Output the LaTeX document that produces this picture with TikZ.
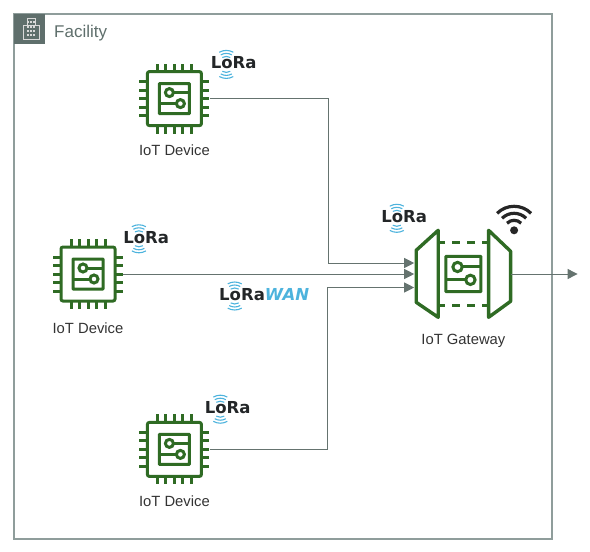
\documentclass[tikz,border=0pt]{standalone}
\usepackage{fontspec}
\usepackage{xcolor}
\usetikzlibrary{arrows.meta,positioning,calc}
\setmainfont{Liberation Sans}
\newfontfamily\logofont{DejaVu Sans}
\definecolor{chipgreen}{HTML}{2F6B24}
\definecolor{framegray}{HTML}{8F9D9B}
\definecolor{cornergray}{HTML}{5F6F6C}
\definecolor{linkgray}{HTML}{65736F}
\definecolor{wavecyan}{HTML}{4DB3DD}
\definecolor{logodark}{HTML}{232628}

\begin{document}
\begin{tikzpicture}[
  x=1pt, y=1pt,
  node distance=10pt and 16pt,
  frame/.style={draw=framegray, line width=1.4pt},
  chipline/.style={draw=chipgreen, line width=3pt},
  device/.style={minimum width=70pt, minimum height=70pt, inner sep=0pt},
  gateway/.style={minimum width=94pt, minimum height=87pt, inner sep=0pt},
  caption/.style={inner sep=0pt, text=black!80, font=\fontsize{14.8}{16}\selectfont},
  lora/.style={inner sep=0pt, text=logodark, font=\logofont\bfseries\fontsize{16.5}{16}\selectfont},
  wave/.style={draw=wavecyan, line width=1.1pt},
  wifiarc/.style={draw=black!85, line width=3.2pt},
  link/.style={draw=linkgray, line width=0.9pt},
  arr/.style={link, -{Triangle[length=10pt, width=10pt]}},
  pics/board/.style={code={
    \draw[chipline, rounded corners=0.5pt] (-15,-15) rectangle (15,15);
    \draw[chipline] (-5,6) circle[radius=4];
    \draw[chipline] (6,-5) circle[radius=4];
    \draw[chipline] (-1,6) -- (15,6);
    \draw[chipline] (-15,-5) -- (2,-5);
  }},
  pics/chip/.style={code={
    \draw[chipline, rounded corners=2pt] (-27,-27) rectangle (27,27);
    \foreach \p in {-17,-8.5,0,8.5,17} {
      \draw[chipline] (\p,27) -- (\p,35);
      \draw[chipline] (\p,-27) -- (\p,-35);
      \draw[chipline] (27,\p) -- (35,\p);
      \draw[chipline] (-27,\p) -- (-35,\p);
    }
    \pic {board};
  }}
]
\useasboundingbox (0,0) rectangle (590,-552);

% facility frame and its corner tag
\draw[frame] (14,-14) rectangle (552,-539);
\fill[cornergray] (14,-14) rectangle (45,-44);
\draw[white!85!black, line width=0.9pt] (23,-39) rectangle (39,-25) (27,-25) -- (27,-18) -- (35,-18) -- (35,-25);
\foreach \wx in {28,31,34} \foreach \wy in {-22,-27,-31,-35}
  \fill[white!85!black] (\wx-0.7,\wy-0.7) rectangle (\wx+0.7,\wy+0.7);
\node[anchor=west, inner sep=0pt, text=cornergray, font=\fontsize{17}{18}\selectfont] (facility) at (54,-33.5) {Facility};

% devices and gateway
\node[device] (dev2) at (88,-274) {};
\node[device, above right=105pt and 16pt of dev2] (dev1) {};
\node[device, below right=105pt and 16pt of dev2] (dev3) {};
\node[gateway, right=293pt of dev2] (gw) {};

\pic at (dev1) {chip};
\pic at (dev2) {chip};
\pic at (dev3) {chip};

\node[caption, below=11pt of dev1] (cap1) {IoT Device};
\node[caption, below=13pt of dev2] (cap2) {IoT Device};
\node[caption, below=11pt of dev3] (cap3) {IoT Device};
\node[caption, below=16pt of gw] (capgw) {IoT Gateway};

% gateway body
\draw[chipline, line width=3.4pt, line join=round] (gw.north west) ++(22,0) -- ++(-22,-20) -- ++(0,-52) -- ++(22,-15) -- cycle;
\draw[chipline, line width=3.4pt, line join=round] (gw.north east) ++(-22,0) -- ++(22,-21) -- ++(0,-50) -- ++(-22,-16) -- cycle;
\draw[chipline, line width=3.4pt, dash pattern=on 8pt off 7pt, dash phase=1pt] ($(gw.center)+(-25,31.5)$) -- ($(gw.center)+(25,31.5)$);
\draw[chipline, line width=3.4pt, dash pattern=on 8pt off 7pt, dash phase=1pt] ($(gw.center)+(-25,-31.5)$) -- ($(gw.center)+(25,-31.5)$);
\pic[scale=1.17] at (gw) {board};

% logos
\node[lora, above right=-6pt and 1pt of dev1] (lora1) {LoRa};
\node[lora, above right=-5pt and 0pt of dev2] (lora2) {LoRa};
\node[lora, above right=0pt and -5pt of dev3] (lora3) {LoRa};
\node[lora, above left=7pt and -11pt of gw] (lora4) {LoRa};
\node[lora, anchor=south west] (lorawan) at (219,-301) {LoRa\textcolor{wavecyan}{\itshape WAN}};
\foreach \m in {lora1,lora2,lora3,lora4,lorawan}
  \foreach \r in {8,11,14} {
    \draw[wave] ($(\m.south west)+(15.7,5)+(60:\r)$) arc[start angle=60, end angle=120, radius=\r];
    \draw[wave] ($(\m.south west)+(15.7,5)+(240:\r)$) arc[start angle=240, end angle=300, radius=\r];
  }

% wifi mark
\coordinate[right=3.5pt of gw.north east] (wifi);
\fill[black!85] (wifi) circle[radius=4];
\foreach \r in {10,17,24}
  \draw[wifiarc] ($(wifi)+(45:\r)$) arc[start angle=45, end angle=135, radius=\r];

% connectors
\coordinate (in1) at ($(gw.west)+(-2,11)$);
\coordinate (in2) at ($(gw.west)+(-2,0)$);
\coordinate (in3) at ($(gw.west)+(-2,-13.5)$);
\coordinate (out) at ($(gw.east)+(67,0)$);
\draw[arr] (dev1.east) -- ++(119,0) |- (in1);
\draw[arr] (dev2.east) -- (in2);
\draw[arr] (dev3.east) -- ++(118,0) |- (in3);
\draw[arr] (gw.east) -- (out);

\end{tikzpicture}
\end{document}
